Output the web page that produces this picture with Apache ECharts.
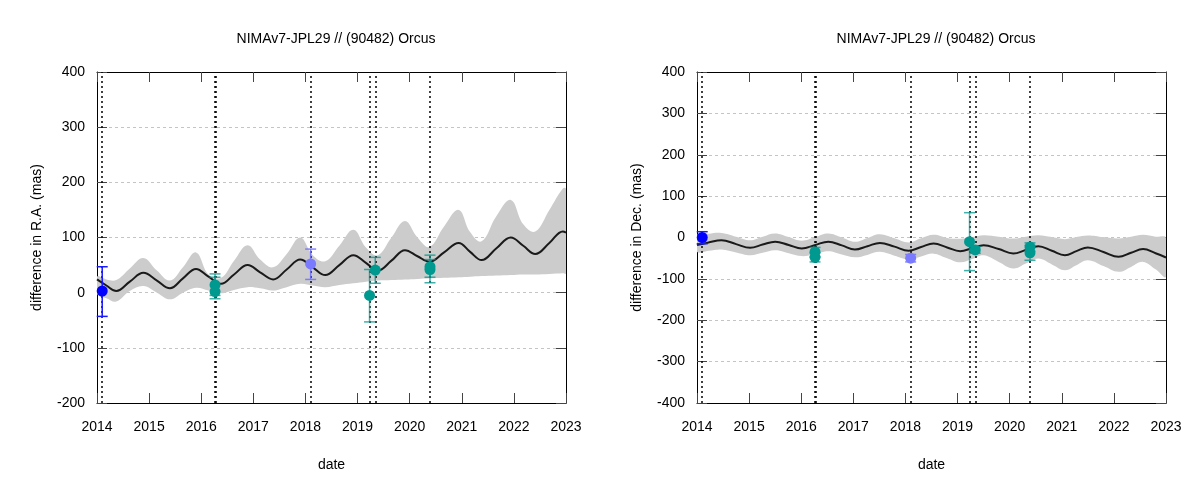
<!DOCTYPE html>
<html><head><meta charset="utf-8">
<script src="https://cdn.jsdelivr.net/npm/echarts@6/dist/echarts.min.js"></script>
<style>html,body{margin:0;padding:0;background:#fff}#c{width:1200px;height:480px}</style>
</head><body><div id="c"></div>
<script>
// ---------- data ----------
const titleText = 'NIMAv7-JPL29 // (90482) Orcus';
const raAxisName = 'difference in R.A. (mas)';
const decAxisName = 'difference in Dec. (mas)';
const xName = 'date';

// R.A. model (mean curve and uncertainty band)
const raT     = [2014.00,2014.18,2014.37,2014.63,2014.89,2015.15,2015.40,2015.65,2015.90,2016.14,2016.38,2016.63,2016.89,2017.13,2017.38,2017.64,2017.90,2018.14,2018.38,2018.65,2018.92,2019.16,2019.39,2019.65,2019.91,2020.15,2020.38,2020.66,2020.94,2021.16,2021.38,2021.66,2021.94,2022.18,2022.41,2022.68,2022.94,2023.00];
const raCurve = [24,13,3,20,36,22,8,26,43,29,16,33,50,37,24,42,60,46,32,50,68,54,40,58,77,66,56,73,90,74,59,80,100,85,70,90,111,109];
const raUpper = [29,24,23,44,63,40,22,46,73,33,27,58,86,60,46,70,100,68,57,85,114,82,68,100,130,100,83,120,150,110,93,138,168,124,111,150,189,188];
const raLower = [-2,-10,-16,3,12,0,-12,0,9,4,-1,5,10,8,4,10,16,13,10,14,17,20,22,23,24,25,26,27,28,29,30,31,32,33,33,34,35,35];

// Dec. model
const decT     = [2014.00,2014.22,2014.47,2014.75,2015.02,2015.26,2015.50,2015.76,2016.01,2016.27,2016.52,2016.78,2017.03,2017.27,2017.51,2017.79,2018.06,2018.30,2018.54,2018.80,2019.05,2019.28,2019.50,2019.79,2020.07,2020.31,2020.55,2020.81,2021.06,2021.28,2021.50,2021.80,2022.09,2022.33,2022.56,2022.80,2023.00];
const decCurve = [-18.5,-12,-6.5,-16,-25,-17,-10,-18,-26.6,-18,-10,-19,-29,-21,-13,-22,-32,-23,-14.5,-24,-33,-26,-18.5,-28,-38.7,-30,-21,-32,-42.7,-33,-24,-35,-46.8,-37,-28,-38,-48.4];
const decUpper = [5.6,9,11,2,-6.5,2,9.7,1,-8,1,9.7,0,-10.5,-1,8,-2,-12,-2,6.5,-1,-3,1,5.6,2,-2.4,2,5.6,1,-4,1,5,1,-2.4,2,6.5,2,-1];
const decLower = [-34.7,-32,-29,-36,-42.7,-37,-30.6,-38,-45,-40,-33,-41,-48,-42,-34.7,-44,-53,-46,-39,-50,-60,-52,-43,-59,-75,-63,-51,-65,-79,-67,-55,-69,-83,-71,-59,-77,-95];

// observations
const obsT     = [2014.10, 2016.265, 2016.265, 2018.10, 2019.23, 2019.34, 2020.39, 2020.39];
const obsGroup = ['blue', 'teal', 'teal', 'light', 'teal', 'teal', 'teal', 'teal'];
const raVal    = [3, 14, 2, 52, -5, 41, 47, 42];
const raLo     = [-43, -5, -11, 24, -53, 17, 28, 18];
const raHi     = [47, 34, 28, 79, 42, 64, 68, 60];
const decVal   = [0, -35, -48, -50, -10, -30, -23, -37];
const decLo    = [-15, -46, -59, -59, -80, -38, -33, -55];
const decHi    = [14, -24, -37, -41, 60, -22, -13, -19];

// observation epochs (vertical dotted lines)
const epochLines = [2014.10, 2016.255, 2016.275, 2018.10, 2019.23, 2019.34, 2020.39];

// axes
const xMin = 2014, xMax = 2023, xStep = 1;
const raMin = -200, raMax = 400, raStep = 100;
const decMin = -400, decMax = 400, decStep = 100;

// ---------- styles ----------
const FONT = 'Liberation Sans, Arial, sans-serif';
const colors = { blue: '#0000ff', light: '#7b7bff', teal: '#009990' };
const errColors = { blue: '#1a1aff', light: 'rgba(110,110,255,0.85)', teal: 'rgba(0,150,140,0.75)' };

const chart = echarts.init(document.getElementById('c'), null, { renderer: 'canvas' });

const grids = [
  { left: 97, right: 634, top: 72, bottom: 77 },
  { left: 697, right: 34, top: 72, bottom: 77 }
];

function xAxes(gi) {
  const base = {
    type: 'value', gridIndex: gi, min: xMin, max: xMax, interval: xStep,
    axisLine: { show: true, onZero: false, lineStyle: { color: '#000', width: 1 } },
    axisTick: { show: true, inside: true, length: 10, lineStyle: { color: '#444', width: 1 } },
    splitLine: { show: false }
  };
  return [
    Object.assign({}, base, {
      position: 'bottom', name: xName, nameLocation: 'middle', nameGap: 55,
      nameTextStyle: { fontFamily: FONT, fontSize: 14, color: '#000' },
      axisLabel: { show: true, margin: 17, fontFamily: FONT, fontSize: 14, color: '#000', formatter: v => String(Math.round(v)) }
    }),
    Object.assign({}, base, { position: 'top', axisLabel: { show: false } })
  ];
}
function yAxes(gi, mn, mx, st, nm) {
  const base = {
    type: 'value', gridIndex: gi, min: mn, max: mx, interval: st,
    axisLine: { show: true, onZero: false, lineStyle: { color: '#000', width: 1 } },
    axisTick: { show: true, inside: true, length: 10, lineStyle: { color: '#444', width: 1 } }
  };
  return [
    Object.assign({}, base, {
      position: 'left', name: nm, nameLocation: 'middle', nameGap: 53,
      nameTextStyle: { fontFamily: FONT, fontSize: 14, color: '#000' },
      axisLabel: { show: true, margin: 12, fontFamily: FONT, fontSize: 14, color: '#000' },
      splitLine: { show: true, lineStyle: { color: '#c4c4c4', type: [3, 3], width: 1 } }
    }),
    Object.assign({}, base, { position: 'right', axisLabel: { show: false }, splitLine: { show: false } })
  ];
}

function panelSeries(gi, T, curve, upper, lower, val, lo, hi) {
  const xi = gi * 2, yi = gi * 2;
  const s = [];
  // uncertainty band as one smoothed polygon built through the axis scales
  s.push({
    type: 'custom', xAxisIndex: xi, yAxisIndex: yi, silent: true, z: 1, clip: true,
    data: T.map((t, i) => [t, upper[i], lower[i]]),
    renderItem: function (params, api) {
      if (params.dataIndex !== 0) return null;
      const n = T.length;
      const pts = [];
      for (let i = 0; i < n; i++) pts.push(api.coord([api.value(0, i), api.value(1, i)]));
      for (let i = n - 1; i >= 0; i--) pts.push(api.coord([api.value(0, i), api.value(2, i)]));
      return { type: 'polygon', shape: { points: pts, smooth: 0.4 }, style: { fill: '#cccccc', stroke: null } };
    }
  });
  s.push({
    type: 'line', xAxisIndex: xi, yAxisIndex: yi,
    data: T.map((t, i) => [t, curve[i]]), symbol: 'none', smooth: 0.4, silent: true,
    lineStyle: { color: '#1a1a1a', width: 2 }, z: 3,
    markLine: {
      silent: true, symbol: 'none', label: { show: false },
      lineStyle: { color: '#000', type: [2, 3], width: 1.5 },
      data: epochLines.map(d => ({ xAxis: d })), z: 4
    }
  });
  ['blue', 'light', 'teal'].forEach(g => {
    const idx = obsT.map((t, i) => i).filter(i => obsGroup[i] === g);
    s.push({
      type: 'custom', xAxisIndex: xi, yAxisIndex: yi, silent: true, z: 5,
      data: idx.map(i => [obsT[i], lo[i], hi[i]]),
      renderItem: function (params, api) {
        const t = api.value(0);
        const p1 = api.coord([t, api.value(1)]);
        const p2 = api.coord([t, api.value(2)]);
        const w = 5.5;
        const st = { stroke: errColors[g], lineWidth: 1.5 };
        return {
          type: 'group', children: [
            { type: 'line', shape: { x1: p1[0], y1: p1[1], x2: p2[0], y2: p2[1] }, style: st },
            { type: 'line', shape: { x1: p1[0] - w, y1: p1[1], x2: p1[0] + w, y2: p1[1] }, style: st },
            { type: 'line', shape: { x1: p2[0] - w, y1: p2[1], x2: p2[0] + w, y2: p2[1] }, style: st }
          ]
        };
      }
    });
    s.push({
      type: 'scatter', xAxisIndex: xi, yAxisIndex: yi, silent: true, z: 6,
      data: idx.map(i => [obsT[i], val[i]]), symbol: 'circle', symbolSize: 11,
      itemStyle: { color: colors[g], opacity: 1 }
    });
  });
  return s;
}

const option = {
  animation: false,
  backgroundColor: '#fff',
  title: [
    { text: titleText, left: 331, top: 27, textAlign: 'center', textStyle: { fontFamily: FONT, fontSize: 14, fontWeight: 'normal', color: '#000' } },
    { text: titleText, left: 931, top: 27, textAlign: 'center', textStyle: { fontFamily: FONT, fontSize: 14, fontWeight: 'normal', color: '#000' } }
  ],
  grid: grids,
  xAxis: xAxes(0).concat(xAxes(1)),
  yAxis: yAxes(0, raMin, raMax, raStep, raAxisName).concat(yAxes(1, decMin, decMax, decStep, decAxisName)),
  series: panelSeries(0, raT, raCurve, raUpper, raLower, raVal, raLo, raHi)
    .concat(panelSeries(1, decT, decCurve, decUpper, decLower, decVal, decLo, decHi))
};
chart.setOption(option);
</script>
</body></html>
